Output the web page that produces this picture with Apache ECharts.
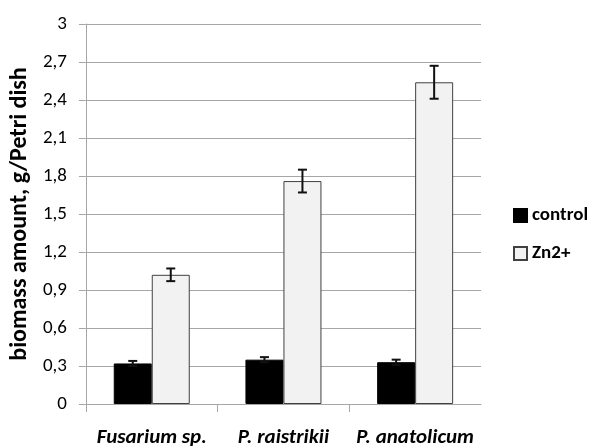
<!DOCTYPE html>
<html><head><meta charset="utf-8">
<script src="https://cdn.jsdelivr.net/npm/echarts@6/dist/echarts.min.js"></script>
<style>html,body{margin:0;padding:0;background:#fff}#c{width:593px;height:448px}</style>
</head><body><div id="c"></div>
<script>
var categories = ['Fusarium sp.', 'P. raistrikii', 'P. anatolicum'];
var controlValues = [0.32, 0.35, 0.33];
var controlErrors = [0.02, 0.02, 0.02];
var zincValues = [1.02, 1.76, 2.54];
var zincErrors = [0.05, 0.09, 0.13];
var yTicks = ['0','0,3','0,6','0,9','1,2','1,5','1,8','2,1','2,4','2,7','3'];

var FONT = 'Carlito, "Open Sans", "Noto Sans", sans-serif';
var BAR_W = 38;

function errorSeries(name, values, errors, side) {
  var data = values.map(function (v, i) { return [i, v - errors[i], v + errors[i]]; });
  return {
    type: 'custom', name: name + '-err', z: 10, silent: true,
    renderItem: function (params, api) {
      var lo = api.coord([api.value(0), api.value(1)]);
      var hi = api.coord([api.value(0), api.value(2)]);
      var x = lo[0] + side * BAR_W / 2;
      var cap = 4.5;
      var st = { stroke: '#111', lineWidth: 2 };
      return { type: 'group', children: [
        { type: 'line', shape: { x1: x, y1: lo[1], x2: x, y2: hi[1] }, style: st },
        { type: 'line', shape: { x1: x - cap, y1: lo[1], x2: x + cap, y2: lo[1] }, style: st },
        { type: 'line', shape: { x1: x - cap, y1: hi[1], x2: x + cap, y2: hi[1] }, style: st }
      ]};
    },
    encode: { x: 0, y: [1, 2] },
    data: data
  };
}

var chart = echarts.init(document.getElementById('c'));
chart.setOption({
  animation: false,
  textStyle: { fontFamily: FONT },
  grid: { left: 85, right: 112, top: 24, bottom: 43 },
  legend: {
    orient: 'vertical', left: 508, top: 201, itemWidth: 13, itemHeight: 13, itemGap: 19,
    icon: 'rect',
    data: ['control', 'Zn2+'],
    textStyle: { fontFamily: FONT, fontWeight: 'bold', fontSize: 19, color: '#000' }
  },
  xAxis: {
    type: 'category', data: categories,
    axisLine: { show: true, lineStyle: { color: '#a6a6a6', width: 1 } },
    axisTick: { show: true, length: 8, lineStyle: { color: '#a6a6a6' } },
    axisLabel: { interval: 0, hideOverlap: false, fontFamily: FONT, fontWeight: 'bold', fontStyle: 'italic', fontSize: 21, color: '#000', margin: 23 }
  },
  yAxis: {
    type: 'value', min: 0, max: 3, interval: 0.3,
    name: 'biomass amount, g/Petri dish', nameLocation: 'middle', nameGap: 51,
    nameTextStyle: { fontFamily: FONT, fontWeight: 'bold', fontSize: 24, color: '#000' },
    axisLine: { show: true, lineStyle: { color: '#a6a6a6' } },
    axisTick: { show: true, length: 7, lineStyle: { color: '#a6a6a6' } },
    splitLine: { show: true, lineStyle: { color: '#a6a6a6' } },
    axisLabel: {
      fontFamily: FONT, fontSize: 19, color: '#000', margin: 19,
      formatter: function (v) { return yTicks[Math.round(v / 0.3)]; }
    }
  },
  series: [
    { type: 'bar', name: 'control', data: controlValues, barWidth: BAR_W, barGap: '0%',
      itemStyle: { color: '#000', borderColor: '#000', borderWidth: 1 } },
    { type: 'bar', name: 'Zn2+', data: zincValues, barWidth: BAR_W, barGap: '0%',
      itemStyle: { color: '#f2f2f2', borderColor: '#404040', borderWidth: 1 } },
    errorSeries('control', controlValues, controlErrors, -1),
    errorSeries('Zn2+', zincValues, zincErrors, 1)
  ]
});
</script></body></html>
